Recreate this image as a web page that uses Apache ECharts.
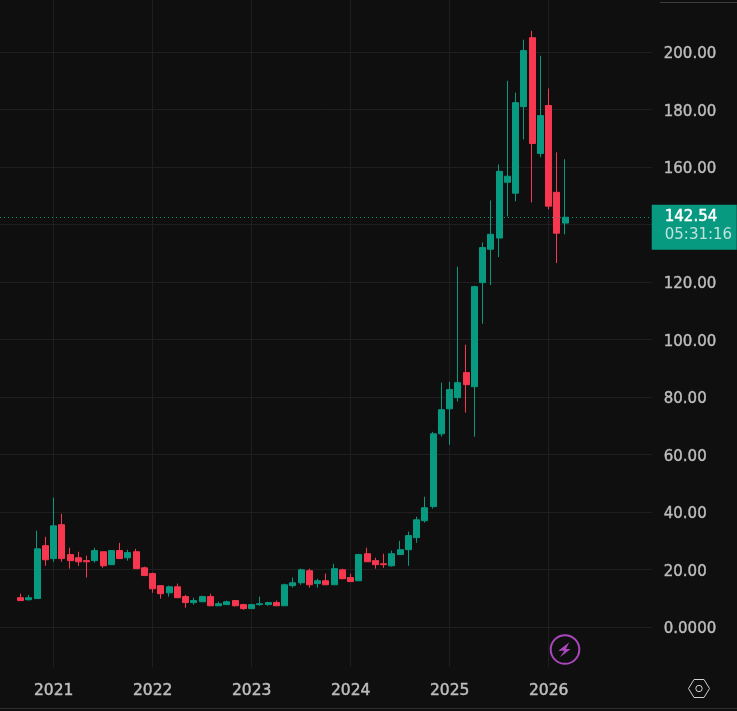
<!DOCTYPE html>
<html>
<head>
<meta charset="utf-8">
<style>
  html, body { margin: 0; padding: 0; background: #0f0f0f; }
  #chart { width: 737px; height: 711px; }
</style>
<script src="https://cdn.jsdelivr.net/npm/echarts@6/dist/echarts.min.js"></script>
</head>
<body>
<div id="chart"></div>
<script>
// monthly bars, two empty months on the left and ten on the right
const months = [
  "2020-07", "2020-08", "2020-09", "2020-10", "2020-11", "2020-12",
  "2021-01", "2021-02", "2021-03", "2021-04", "2021-05", "2021-06", "2021-07", "2021-08", "2021-09", "2021-10", "2021-11", "2021-12",
  "2022-01", "2022-02", "2022-03", "2022-04", "2022-05", "2022-06", "2022-07", "2022-08", "2022-09", "2022-10", "2022-11", "2022-12",
  "2023-01", "2023-02", "2023-03", "2023-04", "2023-05", "2023-06", "2023-07", "2023-08", "2023-09", "2023-10", "2023-11", "2023-12",
  "2024-01", "2024-02", "2024-03", "2024-04", "2024-05", "2024-06", "2024-07", "2024-08", "2024-09", "2024-10", "2024-11", "2024-12",
  "2025-01", "2025-02", "2025-03", "2025-04", "2025-05", "2025-06", "2025-07", "2025-08", "2025-09", "2025-10", "2025-11", "2025-12",
  "2026-01", "2026-02", "2026-03", "2026-04", "2026-05", "2026-06", "2026-07", "2026-08", "2026-09", "2026-10", "2026-11", "2026-12",
  "2027-01"
];
const yearTicks = ["2021-01", "2022-01", "2023-01", "2024-01", "2025-01", "2026-01"];

// [open, close, low, high]
const candles = [
  "-", "-",
  [10.2, 9.2, 9.2, 11.6], [9.5, 10.2, 9.2, 11.2], [9.9, 27.2, 9.9, 33.5], [28.3, 23.4, 21.3, 31.4],
  [23.8, 35.2, 22.7, 45], [35.6, 23.8, 22.7, 39.4], [25.2, 23.1, 20.3, 27.6], [24.1, 22.7, 21.3, 26.2],
  [23.1, 22.7, 17.2, 24.8], [23.1, 26.6, 22.4, 27.6], [26.2, 21.3, 20.6, 26.2], [21.7, 26.6, 21.7, 26.6],
  [26.6, 23.8, 23.8, 29.3], [24.1, 25.9, 23.1, 26.9], [26.2, 20.3, 20.3, 27.2], [20.6, 17.9, 17.9, 21],
  [18.6, 13.3, 11.9, 18.9], [14.4, 11.6, 9.9, 14.4], [11.9, 14, 10.6, 14.4], [14, 10.2, 10.2, 15.1],
  [10.6, 8.5, 6.7, 11.2], [8.5, 9.2, 7.8, 10.2], [8.8, 10.6, 8.8, 10.9], [10.6, 7.4, 7.4, 11.6],
  [7.4, 8.1, 7.4, 8.8], [7.8, 8.8, 7.8, 9.2], [9.2, 7.4, 7.1, 9.2], [7.8, 6.4, 6, 8.1],
  [6.4, 7.8, 6.4, 8.1], [7.8, 8.1, 7.4, 10.6], [7.8, 8.5, 7.4, 8.8], [8.5, 7.4, 7.4, 9.2],
  [7.4, 14.7, 7.4, 15.1], [14.4, 15.4, 13.7, 17.2], [15.4, 19.9, 14.7, 20.3], [19.6, 14.7, 13.7, 20.3],
  [15.1, 16.1, 13.7, 16.8], [16.1, 14.7, 14.7, 18.6], [14.7, 20.3, 14.7, 22], [19.9, 16.8, 16.8, 20.3],
  [17.2, 15.8, 15.8, 18.6], [16.1, 25.2, 16.1, 25.5], [25.5, 22.7, 22.7, 27.6], [23.1, 21.7, 20.3, 24.1],
  [22, 21.7, 20.6, 25.5], [21.3, 25.5, 21, 26.6], [25.2, 26.9, 25.2, 30], [26.9, 31.8, 21.3, 33.2],
  [31.1, 37.3, 29.3, 38.4], [37, 41.5, 36.3, 45.3], [41.9, 67.2, 41.2, 67.9], [67.2, 75.6, 66.2, 85],
  [75.9, 82.6, 63.4, 85.3], [79.8, 85, 78.4, 125.3], [88.5, 84.3, 74.6, 98.2], [83.6, 118.4, 66.2, 118.7],
  [119.8, 132, 105.5, 133.8], [131.4, 136.6, 119, 148.4], [135.3, 158.5, 128.7, 160.9], [154.7, 156.8, 142.8, 190],
  [150.9, 182.4, 148.1, 185.9], [181, 200.5, 169.6, 204.3], [205, 168.2, 147.7, 207.4], [164.7, 177.9, 163.4, 198.7],
  [181.4, 146.4, 145.3, 187.3], [151.2, 137, 126.6, 165.1], [140.5, 142.54, 136.6, 162.7],
  "-", "-", "-", "-", "-", "-", "-", "-", "-", "-", "-", "-"
];

const priceTicks = [0, 20, 40, 60, 80, 100, 120, 140, 160, 180, 200];
const priceLabels = ["0.0000", "20.00", "40.00", "60.00", "80.00", "100.00", "120.00", "140.00", "160.00", "180.00", "200.00"];
const lastPrice = 142.54;
const countdown = "05:31:16";

const chart = echarts.init(document.getElementById("chart"));
const font = "'DejaVu Sans', sans-serif";
const green = "#089981";
const red = "#f7374f";
const gridColor = "#1f1f1f";
const labelColor = "#bcbcbc";
const isYear = (i, v) => yearTicks.includes(v);

chart.setOption({
  animation: false,
  backgroundColor: "#0f0f0f",
  textStyle: { fontFamily: font },
  grid: { left: 0, top: 0, width: 651.75, height: 667 },
  xAxis: {
    type: "category",
    data: months,
    boundaryGap: true,
    axisLine: { show: false },
    axisTick: { show: false, alignWithLabel: true, interval: isYear },
    splitLine: {
      show: true,
      alignWithLabel: true,
      interval: isYear,
      lineStyle: { color: gridColor, width: 1 }
    },
    axisLabel: {
      interval: isYear,
      formatter: (v) => v.slice(0, 4),
      color: labelColor,
      textBorderColor: labelColor,
      textBorderWidth: 0.5,
      fontSize: 15.5,
      fontFamily: font,
      margin: 16
    }
  },
  yAxis: {
    type: "value",
    position: "right",
    min: -13.9,
    max: 218.1,
    axisLine: { show: false },
    axisTick: { show: false, customValues: priceTicks },
    splitLine: { show: true, lineStyle: { color: gridColor, width: 1 } },
    axisLabel: {
      customValues: priceTicks,
      formatter: (v) => priceLabels[priceTicks.indexOf(v)],
      color: labelColor,
      textBorderColor: labelColor,
      textBorderWidth: 0.4,
      fontSize: 15,
      fontFamily: font,
      margin: 12,
      verticalAlign: "top",
      lineHeight: 5
    }
  },
  series: [
    {
      type: "candlestick",
      data: candles,
      barWidth: 6.5,
      itemStyle: { color: green, color0: red, borderColor: green, borderColor0: red, borderWidth: 1 },
      markLine: {
        silent: true,
        symbol: "none",
        data: [{ yAxis: lastPrice }],
        lineStyle: { color: green, type: [1, 3], width: 1 },
        label: {
          position: "end",
          distance: 0,
          offset: [0, 10],
          formatter: () => "{p|" + lastPrice.toFixed(2) + "}\n{t|" + countdown + "}",
          backgroundColor: green,
          padding: 0,
          width: 85,
          height: 45,
          align: "left",
          rich: {
            p: { color: "#ffffff", fontSize: 15, textBorderColor: "#ffffff", textBorderWidth: 0.5, fontFamily: font, lineHeight: 20, padding: [4, 0, 0, 13] },
            t: { color: "#bfe3dc", fontSize: 15, fontFamily: font, lineHeight: 20, padding: [0, 0, 0, 13] }
          }
        }
      }
    }
  ],
  graphic: [
    // frame remains at the crop edges
    { type: "line", shape: { x1: 660, y1: 2.5, x2: 737, y2: 2.5 }, style: { stroke: "#3d3d3d", lineWidth: 1 } },
    { type: "line", shape: { x1: 0, y1: 708.5, x2: 737, y2: 708.5 }, style: { stroke: "#2e2e2e", lineWidth: 1 } },
    // lightning badge
    { type: "circle", shape: { cx: 565, cy: 649.5, r: 14.3 }, style: { fill: "#0f0f0f", stroke: "#ab47bc", lineWidth: 2 } },
    {
      type: "polygon",
      shape: { points: [[569.3, 642.3], [558.3, 650.7], [564.3, 650.7], [560, 657.3], [570.7, 649], [566, 649]] },
      style: { fill: "#ab47bc" }
    },
    // settings hexagon
    {
      type: "polygon",
      shape: { points: [[688.5, 688.5], [694, 679.5], [704, 679.5], [709.5, 688.5], [704, 697.5], [694, 697.5]] },
      style: { fill: "none", stroke: "#d0d0d0", lineWidth: 1 }
    },
    { type: "circle", shape: { cx: 699, cy: 688.5, r: 3.2 }, style: { fill: "none", stroke: "#d0d0d0", lineWidth: 1 } }
  ]
});
</script>
</body>
</html>
